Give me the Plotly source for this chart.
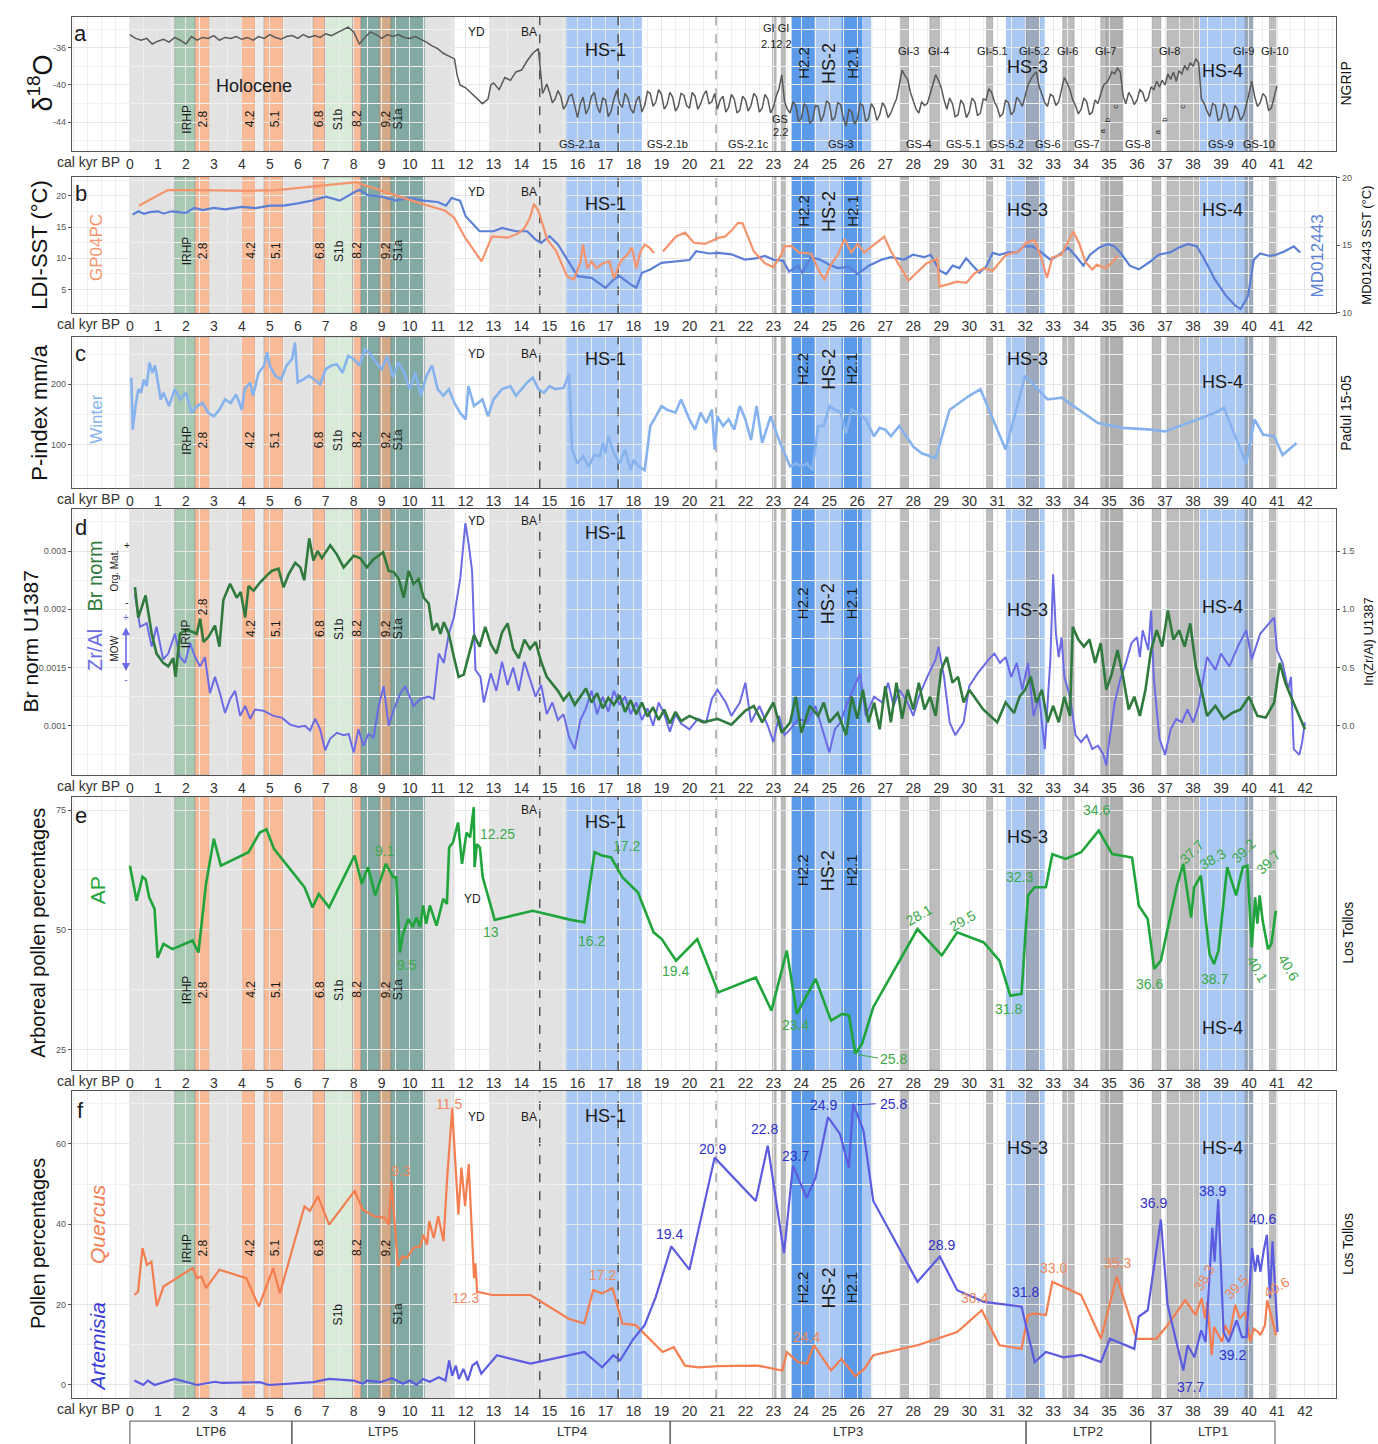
import plotly.graph_objects as go

# ================= DATA =================
# (a) NGRIP d18O  (age kyr, permil)
ngrip = [(0.0,-34.6),(0.2,-35.0),(0.4,-35.2),(0.6,-35.0),(0.8,-35.6),(1.0,-35.3),(1.2,-35.1),(1.4,-35.4),(1.6,-34.9),(1.8,-35.2),
 (2.0,-35.6),(2.2,-34.8),(2.4,-35.2),(2.6,-34.9),(2.8,-35.0),(3.0,-34.7),(3.2,-35.2),(3.4,-34.9),(3.6,-35.0),(3.8,-34.8),
 (4.0,-35.1),(4.2,-34.9),(4.4,-35.2),(4.6,-34.8),(4.8,-35.0),(5.0,-34.6),(5.2,-34.9),(5.4,-35.1),(5.6,-34.8),(5.8,-34.7),
 (6.0,-35.0),(6.2,-34.6),(6.4,-34.9),(6.6,-34.7),(6.8,-34.9),(7.0,-34.5),(7.2,-34.7),(7.4,-34.4),(7.6,-34.1),(7.8,-33.8),
 (8.0,-34.3),(8.2,-35.6),(8.4,-34.9),(8.6,-34.3),(8.8,-34.6),(9.0,-35.0),(9.2,-34.6),(9.4,-34.8),(9.6,-34.6),(9.8,-34.9),
 (10.0,-35.0),(10.2,-34.8),(10.4,-35.1),(10.6,-35.4),(10.8,-35.8),(11.0,-36.1),(11.2,-36.6),(11.4,-36.9),(11.6,-37.2),(11.7,-39.0),
 (11.8,-40.0),(12.0,-40.3),(12.2,-40.9),(12.4,-41.4),(12.6,-42.0),(12.8,-41.5),(12.9,-40.0),(13.0,-39.8),(13.2,-40.5),(13.4,-39.2),
 (13.6,-39.5),(13.8,-38.6),(14.0,-38.4),(14.2,-37.4),(14.4,-36.6),(14.6,-36.1),
 (14.7,-39.8),(14.75,-40.9),(14.8,-40.6),(14.9,-39.9),(15.0,-40.8),(15.1,-41.9),(15.2,-41.5),(15.3,-40.6),(15.4,-41.2),(15.5,-42.6),
 (15.6,-42.1),(15.7,-41.2),(15.8,-41.0),(15.9,-42.4),(16.0,-43.5),(16.1,-42.0),(16.2,-41.3),(16.3,-43.1),(16.4,-42.5),(16.5,-41.2),
 (16.6,-40.8),(16.7,-42.3),(16.8,-43.0),(16.9,-41.4),(17.0,-41.6),(17.1,-43.4),(17.2,-42.8),(17.3,-41.5),(17.4,-40.6),(17.5,-42.0),
 (17.6,-42.4),(17.7,-40.9),(17.8,-41.4),(17.9,-42.6),(18.0,-43.0),(18.1,-41.7),(18.2,-41.2),(18.3,-42.9),(18.4,-42.2),(18.5,-40.7),
 (18.6,-40.9),(18.7,-42.3),(18.8,-41.8),(18.9,-40.5),(19.0,-41.0),(19.1,-42.6),(19.2,-42.1),(19.3,-40.8),(19.4,-41.3),(19.5,-42.8),
 (19.6,-42.3),(19.7,-40.9),(19.8,-41.1),(19.9,-42.2),(20.0,-42.5),(20.1,-40.8),(20.2,-41.2),(20.3,-42.6),(20.4,-42.0),(20.5,-41.1),
 (20.6,-40.6),(20.7,-42.0),(20.8,-41.8),(20.9,-40.9),(21.0,-42.6),(21.1,-41.6),(21.2,-41.2),(21.3,-42.9),(21.4,-42.4),(21.5,-41.0),
 (21.6,-41.5),(21.7,-43.0),(21.8,-42.7),(21.9,-41.2),(22.0,-41.6),(22.1,-42.8),(22.2,-42.2),(22.3,-40.9),(22.4,-41.3),(22.5,-42.9),
 (22.6,-42.5),(22.7,-41.0),(22.8,-41.5),(22.9,-43.0),(23.0,-42.4),(23.1,-41.2),(23.2,-40.4),(23.3,-38.9),(23.35,-40.2),(23.4,-41.8),
 (23.5,-42.6),(23.6,-43.0),(23.7,-41.8),(23.8,-42.2),(23.9,-43.9),(24.0,-43.6),(24.1,-42.0),(24.2,-42.4),(24.3,-44.1),(24.4,-43.8),
 (24.5,-42.2),(24.6,-42.3),(24.7,-43.9),(24.8,-43.2),(24.9,-41.7),(25.0,-42.0),(25.1,-43.8),(25.2,-43.5),(25.3,-41.9),(25.4,-42.1),
 (25.5,-43.6),(25.6,-44.4),(25.7,-42.6),(25.8,-42.9),(25.9,-44.2),(26.0,-43.7),(26.1,-42.0),(26.2,-42.2),(26.3,-43.9),(26.4,-43.6),
 (26.5,-42.0),(26.6,-42.5),(26.7,-43.8),(26.8,-43.2),(26.9,-41.9),(27.0,-42.4),(27.1,-43.5),(27.2,-43.0),(27.3,-42.2),(27.4,-41.5),
 (27.5,-40.0),(27.6,-38.4),(27.7,-39.0),(27.8,-39.4),(27.9,-40.8),(28.0,-41.8),(28.1,-42.6),(28.2,-43.0),(28.3,-41.8),(28.4,-42.2),
 (28.5,-42.0),(28.6,-41.0),(28.7,-39.8),(28.8,-38.9),(28.9,-39.5),(29.0,-40.3),(29.1,-41.6),(29.2,-42.6),(29.3,-41.4),(29.4,-42.0),
 (29.5,-43.4),(29.6,-43.2),(29.7,-41.6),(29.8,-42.1),(29.9,-43.5),(30.0,-42.9),(30.1,-41.4),(30.2,-41.8),(30.3,-43.3),(30.4,-43.0),
 (30.5,-41.5),(30.6,-41.6),(30.7,-40.4),(30.8,-40.8),(30.9,-41.8),(31.0,-42.4),(31.1,-43.4),(31.2,-43.1),(31.3,-41.6),(31.4,-41.9),
 (31.5,-43.2),(31.6,-42.8),(31.7,-41.3),(31.8,-41.7),(31.9,-42.3),(32.0,-41.0),(32.1,-40.0),(32.2,-39.4),(32.3,-38.9),(32.4,-38.6),
 (32.5,-40.2),(32.6,-41.0),(32.7,-41.9),(32.8,-42.3),(32.9,-41.0),(33.0,-41.2),(33.1,-42.2),(33.2,-41.8),(33.3,-40.5),(33.4,-39.2),
 (33.5,-39.8),(33.6,-40.5),(33.7,-41.6),(33.8,-42.2),(33.9,-43.1),(34.0,-42.6),(34.1,-41.4),(34.2,-41.8),(34.3,-43.2),(34.4,-42.9),
 (34.5,-41.6),(34.6,-42.0),(34.7,-41.0),(34.8,-40.0),(34.9,-39.8),(35.0,-39.3),(35.1,-38.6),(35.2,-38.8),(35.3,-38.2),(35.4,-38.6),
 (35.5,-41.2),(35.6,-42.0),(35.7,-40.8),(35.8,-41.3),(35.9,-42.1),(36.0,-41.6),(36.1,-40.5),(36.2,-40.8),(36.3,-41.8),(36.4,-41.4),
 (36.5,-40.2),(36.6,-40.5),(36.7,-39.6),(36.8,-40.2),(36.9,-39.5),(37.0,-40.0),(37.1,-38.8),(37.2,-39.4),(37.3,-38.6),(37.4,-39.6),
 (37.5,-38.5),(37.6,-38.8),(37.7,-37.9),(37.8,-38.4),(37.9,-37.6),(38.0,-38.0),(38.1,-37.2),(38.2,-37.6),(38.3,-41.5),(38.4,-42.0),
 (38.5,-42.8),(38.6,-43.4),(38.7,-42.0),(38.8,-42.2),(38.9,-43.8),(39.0,-43.6),(39.1,-42.0),(39.2,-42.4),(39.3,-43.9),(39.4,-43.5),
 (39.5,-42.2),(39.6,-42.7),(39.7,-43.8),(39.8,-43.3),(39.9,-42.2),(40.0,-41.0),(40.1,-39.6),(40.2,-41.2),(40.3,-42.3),(40.4,-41.9),
 (40.5,-40.9),(40.6,-41.3),(40.7,-42.7),(40.8,-42.5),(40.9,-41.2),(41.0,-40.1)]

# (b) GP04PC LDI-SST (left axis, degC); None = gap
gp04pc = [(0.32,18.4),(1.35,20.9),(2.38,20.9),(4.29,20.8),(5.24,20.9),(6.5,21.5),(8.1,22.2),(8.25,21.9),(9.2,20.5),(10.3,18.9),
 (11.27,17.6),(11.59,16.5),(11.98,13.3),(12.57,9.5),(12.94,13.5),(13.49,13.3),(13.85,13.9),(14.1,14.8),(14.3,16.5),(14.44,18.7),
 (14.6,17.6),(14.92,13.0),(15.24,11.1),(15.63,7.1),(15.87,6.6),(16.11,9.5),(16.19,12.2),(16.35,8.4),(16.5,9.5),(16.67,8.4),
 (16.9,9.2),(17.14,9.5),(17.3,6.8),(17.54,9.5),(17.78,10.6),(17.94,11.7),(18.1,8.4),(18.25,11.1),(18.4,12.2),(18.57,11.7),
 (18.73,10.9),(18.9,None),(19.05,11.1),(19.52,13.5),(19.84,14.1),(20.16,12.48),(20.55,12.29),(21.03,13.26),(21.27,13.46),(21.5,14.43),
 (21.74,15.67),(21.9,15.6),(22.3,11.12),(22.7,9.18),(23.0,8.59),(23.28,10.54),(23.4,11.9),(23.64,12.0),(23.91,10.93),(24.35,10.73),
 (24.67,7.62),(24.83,6.65),(25.06,8.98),(25.3,10.54),(25.54,13.07),(25.78,10.93),(26.01,12.29),(26.25,10.93),(26.96,13.46),(27.2,11.12),
 (27.83,6.45),(28.47,9.18),(28.86,9.95),(28.94,5.48),(29.26,5.87),(29.57,6.26),(29.89,6.06),(30.2,7.62),(30.52,8.4),(30.84,8.01),
 (31.31,10.54),(31.79,11.12),(32.03,12.48),(32.34,12.87),(32.58,9.95),(32.78,6.84),(32.97,10.15),(33.29,10.54),(33.72,14.24),(33.92,12.48),
 (34.16,9.37),(34.4,8.2),(34.56,8.98),(34.87,8.4),(35.11,9.37),(35.3,10.34)]

# (b) MD012443 SST (right axis, degC)
md012443 = [(0.1,17.27),(0.3,17.51),(0.5,17.32),(0.7,17.45),(1.0,17.51),(1.2,17.35),(1.5,17.51),(2.0,17.39),(2.3,17.76),(2.6,17.6),
 (3.0,17.76),(3.4,17.65),(4.0,17.84),(4.5,17.75),(5.0,17.93),(5.5,17.93),(6.0,18.1),(6.5,18.3),(7.0,18.6),(7.5,18.3),
 (8.0,18.9),(8.2,19.1),(8.5,18.7),(9.0,18.6),(9.5,18.3),(10.0,18.5),(10.5,18.3),(11.0,18.2),(11.3,17.93),(11.5,18.5),
 (11.8,18.3),(12.0,17.14),(12.5,16.03),(13.0,16.03),(13.3,16.28),(13.8,16.03),(14.2,16.03),(14.5,15.41),(14.7,15.17),(15.0,15.66),
 (15.3,15.05),(15.6,14.06),(16.0,12.7),(16.5,12.58),(17.0,11.84),(17.3,12.46),(17.5,12.7),(17.9,12.09),(18.1,11.84),(18.3,12.95),
 (18.6,13.2),(19.0,13.69),(19.5,13.8),(20.0,13.9),(20.24,14.55),(20.71,14.38),(21.03,14.43),(21.5,14.32),(21.98,13.93),(22.37,14.02),
 (22.7,14.2),(23.0,13.93),(23.35,13.84),(23.56,13.04),(23.88,13.48),(24.03,12.95),(24.35,14.11),(24.67,13.93),(24.98,13.57),(25.3,13.3),
 (25.7,13.39),(26.01,12.86),(26.41,13.48),(26.88,13.93),(27.2,14.11),(27.67,13.93),(27.99,14.29),(28.39,14.11),(28.62,14.29),(28.94,13.13),
 (29.18,12.86),(29.41,13.48),(29.65,13.3),(29.89,14.02),(30.13,13.48),(30.36,12.95),(30.6,13.39),(30.84,14.43),(31.08,14.29),(31.39,14.46),
 (31.71,14.46),(31.95,14.91),(32.26,14.91),(32.58,14.46),(32.9,13.93),(33.21,14.29),(33.53,14.82),(33.77,14.29),(34.08,13.48),(34.32,14.29),
 (34.64,14.82),(34.95,15.09),(35.19,14.91),(35.43,14.38),(35.74,13.48),(36.06,13.21),(36.45,13.75),(36.77,14.29),(37.18,14.46),(37.5,14.82),
 (37.82,15.09),(38.14,14.91),(38.46,13.75),(38.77,12.5),(39.18,11.25),(39.5,10.54),(39.7,10.27),(39.97,11.25),(40.17,13.93),(40.4,14.38),
 (40.73,14.2),(40.97,14.29),(41.28,14.55),(41.6,14.91),(41.83,14.46)]

# (c) Padul 15-05 winter P-index (mm/a)
winter_p = [(0.05,211),(0.1,125),(0.2,164),(0.3,192),(0.4,186),(0.5,208),(0.6,197),(0.7,236),(0.8,219),(0.9,231),(1.0,203),(1.1,175),
 (1.2,186),(1.4,164),(1.6,192),(1.8,175),(2.0,186),(2.2,153),(2.4,164),(2.6,169),(2.8,153),(3.0,147),(3.2,158),(3.4,175),(3.6,169),
 (3.8,183),(4.0,158),(4.1,192),(4.3,203),(4.4,181),(4.6,219),(4.8,231),(4.9,253),(5.0,231),(5.2,214),(5.4,208),(5.6,231),(5.8,242),
 (5.9,269),(6.0,203),(6.2,208),(6.4,214),(6.6,208),(6.8,200),(7.0,225),(7.2,231),(7.4,233),(7.6,219),(7.8,247),(8.0,242),(8.2,231),
 (8.4,258),(8.6,250),(8.8,236),(9.0,225),(9.2,247),(9.4,211),(9.6,236),(9.8,219),(10.0,192),(10.2,219),(10.4,181),(10.6,214),(10.8,231),
 (11.0,192),(11.2,181),(11.4,192),(11.6,169),(11.8,153),(12.0,142),(12.1,197),(12.3,164),(12.6,175),(12.8,147),(13.0,175),(13.3,192),
 (13.6,197),(13.8,181),(14.0,192),(14.2,203),(14.4,211),(14.6,192),(14.8,186),(15.0,197),(15.2,192),(15.5,194),(15.7,217),(15.8,92),
 (16.0,69),(16.2,81),(16.4,64),(16.6,83),(16.8,81),(16.9,103),(17.0,86),(17.1,114),(17.3,86),(17.5,69),(17.7,92),(17.9,58),(18.0,75),
 (18.2,64),(18.4,58),(18.6,131),(18.8,147),(19.0,164),(19.2,158),(19.5,153),(19.7,175),(20.0,142),(20.2,125),(20.4,153),(20.6,136),
 (20.8,158),(20.9,92),(21.0,147),(21.2,131),(21.4,142),(21.6,125),(21.8,164),(22.0,142),(22.2,108),(22.4,164),(22.6,103),(22.9,147),
 (23.2,108),(23.6,64),(23.8,69),(24.0,64),(24.2,69),(24.4,58),(24.6,131),(24.8,131),(25.0,164),(25.2,158),(25.4,153),(25.6,119),
 (25.8,158),(26.0,153),(26.3,142),(26.6,114),(26.8,128),(27.0,125),(27.2,114),(27.5,131),(28.0,97),(28.3,86),(28.8,78),(29.3,158),
 (30.0,181),(30.4,192),(31.3,92),(32.0,214),(32.8,175),(33.3,178),(34.6,136),(35.5,128),(36.5,125),(37.0,122),(38.0,139),(38.8,153),
 (39.1,161),(39.9,69),(40.2,142),(40.5,117),(40.9,114),(41.2,83),(41.7,103)]

# (d) U1387 Br norm (left axis)
br_norm = [(0.18,0.00219),(0.3,0.00193),(0.56,0.00212),(0.78,0.00179),(0.95,0.00162),(1.19,0.00154),(1.37,0.00151),(1.55,0.00158),
 (1.63,0.00142),(1.79,0.00179),(1.97,0.00182),(2.21,0.00181),(2.39,0.00179),(2.51,0.00192),(2.63,0.00172),(2.8,0.00176),(3.04,0.00186),
 (3.2,0.00168),(3.34,0.00208),(3.58,0.00222),(3.82,0.0021),(3.96,0.00215),(4.12,0.00193),(4.24,0.0022),(4.42,0.00216),(4.65,0.00223),
 (4.89,0.00229),(5.07,0.00233),(5.31,0.00235),(5.49,0.00219),(5.67,0.0023),(5.91,0.0024),(6.09,0.00236),(6.23,0.00225),(6.41,0.00261),
 (6.56,0.00242),(6.71,0.0025),(6.86,0.00244),(7.16,0.00255),(7.4,0.00247),(7.64,0.00236),(8.0,0.00246),(8.23,0.00244),(8.47,0.00236),
 (8.71,0.00243),(9.05,0.00249),(9.25,0.00233),(9.43,0.00232),(9.61,0.00226),(9.79,0.0021),(9.96,0.00233),(10.14,0.00222),(10.32,0.00226),
 (10.5,0.0021),(10.68,0.00205),(10.82,0.00182),(10.98,0.00188),(11.1,0.00179),(11.22,0.00189),(11.4,0.00179),(11.58,0.00159),(11.75,0.00142),
 (11.93,0.00144),(12.11,0.0016),(12.3,0.00178),(12.5,0.00168),(12.7,0.00185),(12.9,0.0017),(13.1,0.00162),(13.3,0.0018),(13.5,0.00188),
 (13.7,0.00166),(13.9,0.00158),(14.1,0.00174),(14.3,0.00166),(14.5,0.00172),(14.7,0.00155),(14.9,0.00142),(15.1,0.00136),(15.3,0.0013),
 (15.5,0.00122),(15.7,0.00128),(15.9,0.00118),(16.1,0.00125),(16.3,0.00132),(16.5,0.0012),(16.7,0.00128),(16.9,0.00115),(17.1,0.00124),
 (17.3,0.00118),(17.5,0.00126),(17.7,0.00112),(17.9,0.00122),(18.1,0.0011),(18.3,0.0012),(18.5,0.00108),(18.7,0.00116),(18.9,0.00105),
 (19.1,0.00114),(19.3,0.00102),(19.5,0.00112),(19.7,0.00104),(20.0,0.001085),(20.5,0.00103),(21.0,0.00106),(21.5,0.00101),(22.0,0.00113),
 (22.3,0.00117),(22.6,0.00103),(23.0,0.0012),(23.3,0.00094),(23.6,0.00103),(23.8,0.00125),(24.0,0.00094),(24.3,0.00117),(24.6,0.001085),
 (24.8,0.0012),(25.0,0.00103),(25.3,0.00111),(25.6,0.00092),(25.8,0.00125),(26.0,0.00106),(26.2,0.00131),(26.4,0.00103),(26.6,0.0012),
 (26.8,0.00097),(27.0,0.00134),(27.2,0.00103),(27.4,0.00137),(27.6,0.00106),(27.8,0.00131),(28.0,0.00114),(28.2,0.00137),(28.4,0.00114),
 (28.6,0.00125),(28.8,0.001085),(29.0,0.00148),(29.2,0.00159),(29.4,0.00137),(29.6,0.00142),(29.8,0.0012),(30.0,0.00131),(30.5,0.00114),
 (31.0,0.00103),(31.3,0.0012),(31.6,0.00111),(31.8,0.00125),(32.0,0.00131),(32.2,0.00142),(32.4,0.0012),(32.6,0.00131),(32.8,0.00103),
 (33.0,0.00117),(33.2,0.00103),(33.4,0.00125),(33.6,0.001085),(33.7,0.00185),(33.9,0.00174),(34.1,0.00168),(34.3,0.00174),(34.5,0.00154),
 (34.7,0.00171),(34.9,0.00131),(35.1,0.00145),(35.3,0.00165),(35.5,0.00142),(35.7,0.00114),(35.9,0.00125),(36.1,0.001085),(36.3,0.00131),
 (36.5,0.00165),(36.7,0.00182),(36.9,0.00168),(37.1,0.00199),(37.3,0.00174),(37.5,0.00182),(37.7,0.00168),(37.9,0.00188),(38.1,0.00151),
 (38.3,0.00131),(38.5,0.001085),(38.8,0.00117),(39.1,0.00106),(39.4,0.00111),(39.7,0.00114),(40.0,0.00125),(40.3,0.001085),(40.6,0.00107),
 (40.9,0.0012),(41.1,0.00154),(41.3,0.00137),(41.5,0.00125),(41.7,0.00114),(41.9,0.00103),(42.0,0.00097)]

# (d) U1387 ln(Zr/Al) (right axis)
zr_al = [(0.18,1.13),(0.36,0.85),(0.6,0.88),(0.78,0.68),(0.95,0.85),(1.19,0.57),(1.37,0.62),(1.61,0.79),(1.79,0.59),(1.97,0.54),
 (2.15,0.71),(2.33,0.59),(2.51,0.51),(2.68,0.59),(2.86,0.28),(3.04,0.42),(3.22,0.28),(3.4,0.11),(3.58,0.23),(3.76,0.3),(3.94,0.085),
 (4.12,0.17),(4.3,0.06),(4.47,0.14),(4.77,0.13),(5.13,0.085),(5.43,0.07),(5.73,0.01),(6.03,-0.01),(6.26,0.0),(6.44,-0.04),(6.62,0.06),
 (6.8,-0.03),(6.98,-0.21),(7.16,-0.11),(7.4,-0.06),(7.64,-0.08),(7.82,-0.07),(8.0,-0.23),(8.17,-0.03),(8.35,-0.17),(8.53,-0.07),
 (8.71,-0.1),(8.89,0.17),(9.07,0.34),(9.25,0.0),(9.43,0.14),(9.67,0.28),(9.84,0.34),(10.14,0.17),(10.38,0.23),(10.68,0.25),(10.86,0.23),
 (11.04,0.62),(11.22,0.54),(11.4,0.79),(11.58,0.93),(11.81,1.27),(11.99,1.74),(12.11,1.56),(12.23,1.33),(12.35,0.48),(12.53,0.42),
 (12.65,0.2),(12.9,0.45),(13.1,0.3),(13.3,0.55),(13.5,0.35),(13.7,0.5),(13.9,0.3),(14.1,0.55),(14.3,0.4),(14.5,0.25),(14.7,0.35),
 (14.9,0.1),(15.1,0.2),(15.3,0.05),(15.5,0.1),(15.7,-0.1),(15.9,-0.2),(16.1,0.05),(16.3,0.15),(16.5,0.3),(16.7,0.1),(16.9,0.25),
 (17.1,0.12),(17.3,0.3),(17.5,0.18),(17.7,0.25),(17.9,0.1),(18.1,0.2),(18.3,0.05),(18.5,0.15),(18.7,0.0),(18.9,0.2),(19.1,0.1),
 (19.3,-0.05),(19.5,0.1),(19.7,0.02),(20.0,-0.03),(20.3,0.06),(20.6,0.03),(20.8,0.23),(21.0,0.31),(21.3,0.2),(21.5,0.085),(21.8,0.2),
 (22.0,0.37),(22.2,0.03),(22.5,0.17),(22.8,0.0),(23.0,-0.14),(23.2,0.085),(23.4,-0.08),(23.6,-0.03),(23.9,0.06),(24.2,0.03),(24.5,0.17),
 (24.8,-0.08),(25.0,-0.23),(25.2,-0.03),(25.4,0.03),(25.6,0.17),(25.9,0.34),(26.1,0.45),(26.3,0.085),(26.6,0.25),(26.9,0.2),(27.1,0.37),
 (27.3,0.17),(27.5,0.31),(27.8,0.2),(28.0,0.085),(28.2,0.25),(28.5,0.42),(28.8,0.57),(28.9,0.68),(29.1,0.42),(29.3,0.03),(29.5,-0.08),
 (29.8,0.03),(30.0,0.34),(30.3,0.45),(30.7,0.57),(30.9,0.62),(31.1,0.54),(31.3,0.59),(31.5,0.42),(31.7,0.54),(31.9,0.31),(32.1,0.54),
 (32.3,0.085),(32.5,0.25),(32.7,-0.2),(32.8,0.2),(32.9,0.57),(33.0,1.3),(33.1,0.79),(33.2,0.59),(33.3,0.76),(33.4,0.42),(33.6,0.25),
 (33.8,-0.08),(34.0,-0.14),(34.2,-0.08),(34.4,-0.2),(34.6,-0.17),(34.8,-0.25),(34.9,-0.34),(35.0,-0.14),(35.2,0.2),(35.4,0.4),(35.6,0.54),
 (35.8,0.71),(36.0,0.76),(36.1,0.59),(36.2,0.82),(36.4,0.65),(36.5,0.99),(36.6,0.4),(36.8,-0.11),(37.0,-0.25),(37.2,-0.03),(37.4,0.06),
 (37.6,0.03),(37.8,0.14),(38.0,0.03),(38.2,0.17),(38.5,0.59),(38.8,0.48),(39.0,0.62),(39.3,0.51),(39.6,0.68),(39.9,0.82),(40.1,0.57),
 (40.4,0.79),(40.9,0.93),(41.0,0.65),(41.2,0.54),(41.4,0.31),(41.5,0.42),(41.6,-0.2),(41.8,-0.25),(41.9,-0.14),(42.0,0.03)]

# (e) Los Tollos arboreal pollen (%)
ap_pct = [(0.0,63.4),(0.24,56.1),(0.45,61.1),(0.56,60.6),(0.69,56.8),(0.88,54.4),(0.99,44.2),(1.2,47.1),(1.52,46.0),(2.24,47.8),
 (2.45,45.3),(2.72,59.6),(3.0,69.0),(3.25,63.4),(4.24,66.2),(4.64,70.3),(4.88,71.0),(5.15,66.9),(6.24,58.9),(6.53,54.7),(6.75,57.5),
 (7.12,54.7),(8.03,65.5),(8.29,59.6),(8.51,63.1),(8.77,57.2),(9.15,63.8),(9.41,61.0),(9.52,61.0),(9.65,45.3),(9.76,49.2),(9.95,52.3),
 (10.11,50.6),(10.24,52.6),(10.37,50.6),(10.48,55.1),(10.59,51.3),(10.72,55.1),(10.96,50.9),(11.2,56.5),(11.33,55.4),(11.41,67.2),
 (11.55,68.3),(11.73,72.4),(11.87,63.8),(12.03,70.3),(12.16,69.3),(12.29,75.6),(12.32,63.1),(12.4,67.9),(12.51,67.2),(12.61,61.0),
 (13.04,52.1),(14.4,54.0),(15.76,52.1),(16.24,51.6),(16.61,66.2),(16.88,65.5),(17.2,65.1),(17.6,61.0),(18.16,57.8),(18.72,49.5),
 (19.01,48.1),(19.52,43.6),(20.28,48.1),(21.03,37.0),(22.37,40.1),(22.93,33.2),(23.48,45.7),(23.84,32.5),(24.51,39.8),(25.06,31.1),
 (25.46,32.5),(25.7,32.2),(25.93,24.2),(26.17,26.3),(26.57,33.9),(28.15,50.2),(29.02,44.7),(29.57,49.5),(30.52,47.4),(31.08,43.6),
 (31.47,36.3),(31.87,36.7),(32.1,57.2),(32.34,58.9),(32.74,58.9),(32.97,65.8),(33.45,64.8),(34.0,66.2),(34.63,70.7),(35.11,65.8),
 (35.82,65.1),(36.06,55.1),(36.38,52.3),(36.61,41.9),(36.85,43.6),(37.41,58.9),(37.65,63.8),(37.93,52.6),(38.04,58.9),(38.28,61.3),
 (38.59,45.0),(38.75,42.9),(38.91,45.7),(39.22,63.1),(39.54,57.2),(39.78,63.1),(39.94,63.4),(40.1,46.4),(40.22,56.8),(40.3,51.3),
 (40.38,57.2),(40.49,51.9),(40.68,46.0),(40.8,47.1),(40.96,54.0)]

# (f) Los Tollos Quercus and Artemisia (%)
quercus_pct = [(0.16,22.4),(0.29,23.2),(0.45,34.1),(0.61,29.9),(0.77,30.7),(0.96,19.6),(1.2,24.5),(2.24,29.1),(2.4,26.6),(2.56,27.0),
 (2.72,24.1),(3.2,28.7),(4.16,26.6),(4.61,19.5),(5.12,29.1),(5.36,22.8),(6.24,44.5),(6.43,43.3),(6.72,47.0),(7.12,39.9),(8.03,48.3),
 (8.32,43.7),(8.72,42.0),(9.12,41.6),(9.25,39.9),(9.35,50.8),(9.58,29.5),(9.74,32.0),(9.9,31.6),(10.14,34.1),(10.38,34.5),(10.49,37.4),
 (10.62,34.9),(10.7,40.8),(10.86,36.6),(11.02,42.0),(11.21,35.8),(11.34,51.6),(11.52,68.8),(11.74,42.4),(11.85,54.1),(11.98,44.5),
 (12.11,55.0),(12.19,44.1),(12.3,26.6),(12.35,30.3),(12.41,23.2),(12.96,22.4),(14.32,22.4),(15.68,16.5),(16.24,15.3),(16.56,23.6),
 (16.88,22.8),(17.25,24.1),(17.6,15.3),(18.08,14.9),(19.04,8.2),(19.44,9.4),(19.84,4.8),(20.32,4.4),(21.03,4.7),(22.45,4.8),(23.32,3.6),
 (23.48,8.2),(23.88,5.7),(24.19,5.3),(24.45,9.9),(25.06,3.6),(25.43,6.5),(25.93,2.2),(26.25,4.0),(26.57,7.4),(28.15,9.9),(29.57,13.2),
 (30.45,18.6),(31.08,9.9),(31.87,9.0),(32.1,17.4),(32.34,17.8),(32.74,17.4),(32.97,25.7),(34.0,22.4),(34.71,11.5),(35.27,27.0),
 (35.98,11.5),(36.69,11.5),(37.09,14.9),(37.72,21.1),(38.09,17.4),(38.31,21.6),(38.43,16.5),(38.51,20.7),(38.67,7.4),(38.75,14.5),
 (38.91,12.4),(39.04,10.7),(39.15,14.9),(39.3,12.4),(39.51,19.9),(39.67,16.5),(39.86,18.2),(40.04,10.7),(40.17,14.0),(40.33,13.2),
 (40.41,12.4),(40.57,14.9),(40.65,21.1),(40.81,16.5),(40.97,12.4)]

artemisia_pct = [(0.16,1.1),(0.48,0.0),(0.64,1.1),(0.88,0.0),(1.6,1.5),(2.4,0.0),(3.04,0.8),(3.3,0.5),(4.64,0.7),(4.96,0.0),
 (6.56,0.7),(7.12,1.5),(8.0,1.1),(8.32,0.3),(8.48,1.1),(8.96,0.7),(9.36,1.7),(9.52,1.1),(9.76,0.3),(10.0,1.1),(10.24,0.0),
 (10.48,1.5),(10.72,0.8),(11.04,1.9),(11.28,1.1),(11.41,6.1),(11.52,2.3),(11.65,4.8),(11.76,1.5),(11.92,4.0),(12.08,1.1),(12.24,4.8),
 (12.4,5.7),(12.56,2.8),(13.12,7.4),(14.32,5.3),(16.24,8.2),(16.88,4.4),(17.28,7.4),(17.52,6.1),(18.0,11.5),(18.4,14.9),(18.8,22.0),
 (19.35,34.5),(20.0,28.7),(20.9,56.6),(22.37,45.8),(22.8,59.6),(23.38,32.8),(23.7,54.6),(24.19,46.6),(24.51,51.6),(24.95,66.7),
 (25.38,62.5),(25.7,54.1),(25.85,70.0),(26.22,63.3),(26.57,45.8),(28.15,25.7),(28.95,32.0),(29.57,23.6),(30.52,20.7),(31.87,19.5),
 (32.34,5.7),(32.74,8.2),(33.37,6.9),(34.0,7.5),(34.71,5.7),(35.03,11.5),(35.9,9.0),(36.06,17.0),(36.38,18.6),(36.85,41.2),
 (37.09,19.9),(37.65,3.6),(37.81,9.9),(38.05,6.9),(38.29,13.6),(38.45,10.7),(38.69,39.1),(38.77,30.7),(38.9,46.2),(39.09,13.2),
 (39.27,10.7),(39.56,16.1),(39.75,11.9),(39.91,11.9),(40.11,34.1),(40.22,28.2),(40.31,32.4),(40.41,28.2),(40.52,33.2),(40.64,37.4),
 (40.75,21.6),(40.84,35.8),(41.02,13.2)]

# Peak-age labels (text, age, value, angle)
ap_labels = [("12.25",13.15,70.0,0),("9.1",9.1,66.5,0),("9.5",9.9,42.6,0),("13",12.9,49.5,0),("16.2",16.5,47.8,0),("17.2",17.75,67.6,0),
 ("19.4",19.5,41.5,0),("23.4",23.8,30.1,0),("25.8",27.3,23.1,0),("28.1",28.2,53.2,-30),("29.5",29.75,51.9,-30),("31.8",31.4,33.5,0),
 ("32.3",31.8,61.0,0),("34.6",34.55,74.9,0),("36.6",36.45,38.8,0),("37.7",37.95,66.3,-45),("38.3",38.7,64.8,-30),("39.2",39.8,66.5,-45),
 ("39.7",40.7,64.1,-45),("38.7",38.75,39.8,0),("40.1",40.3,41.9,60),("40.6",41.4,42.2,60)]
quercus_labels = [("11.5",11.4,70.0,0),("9.3",9.68,53.3,0),("12.3",12.0,21.6,0),("17.2",16.9,27.4,0),("24.4",24.2,11.9,0),
 ("30.4",30.2,21.6,0),("33.0",33.0,29.1,0),("35.3",35.3,30.3,0),("38.3",38.4,26.6,-60),("39.5",39.55,24.3,-45),("40.6",41.0,24.3,-30)]
artemisia_labels = [("19.4",19.3,37.5,0),("20.9",20.84,58.7,0),("22.8",22.7,63.7,0),("23.7",23.8,57.1,0),("24.9",24.8,69.6,0),
 ("25.8",27.3,70.0,0),("28.9",29.0,34.8,0),("31.8",32.0,23.2,0),("36.9",36.6,45.4,0),("37.7",37.9,-0.6,0),("38.9",38.7,48.3,0),
 ("39.2",39.4,7.4,0),("40.6",40.5,41.2,0)]

# Pollen zones
ltp_edges = [0, 5.79, 12.32, 19.31, 32.03, 36.49, 40.93]
ltp_names = ["LTP6", "LTP5", "LTP4", "LTP3", "LTP2", "LTP1"]

# Event shading (start, end, kind)
events = [(0,1.6,"hol"),(1.6,2.33,"irhp"),(2.33,2.84,"rcc"),(2.84,3.99,"hol"),(3.99,4.48,"rcc"),(4.48,4.79,"hol2"),(4.79,5.47,"rcc"),
 (5.47,6.55,"hol"),(6.55,6.97,"rcc"),(6.97,7.96,"s1b"),(7.96,8.26,"rcc"),(8.26,8.92,"s1a"),(8.92,9.33,"rccs"),(9.33,10.54,"s1a"),
 (10.54,11.6,"hol"),(12.84,15.6,"hol"),(15.6,18.3,"hs"),(22.97,23.1,"gi"),(23.28,23.43,"gi"),(23.65,24.48,"h"),(24.48,25.43,"hs"),
 (25.43,26.17,"h"),(26.17,26.53,"hs"),(27.55,27.83,"gi"),(28.59,28.94,"gi"),(30.62,30.84,"gi"),(31.31,32.7,"hs"),(32.03,32.52,"gihs"),
 (33.34,33.75,"gi"),(34.7,35.47,"gi"),(34.9,35.47,"gi2"),(36.53,36.85,"gi"),(37.07,38.2,"gi"),(38.24,39.86,"hs"),(39.86,40.14,"gihs"),
 (40.73,41.0,"gi")]
dashed_ages = [(14.65,"#333333"),(17.45,"#333333"),(20.95,"#8c8c8c")]

event_text = [("IRHP",2.03),("2.8",2.6),("4.2",4.3),("5.1",5.2),("6.8",6.77),("S1b",7.45),("8.2",8.12),("9.2",9.14),("S1a",9.57)]
gi_text = [("GI-3",27.83),("GI-4",28.91),("GI-5.1",30.84),("GI-5.2",32.34),("GI-6",33.53),("GI-7",34.87),("GI-8",37.17),("GI-9",39.8),("GI-10",40.93)]
gs_text = [("GS-2.1a",16.1),("GS-2.1b",19.2),("GS-2.1c",22.1),("GS-3",25.4),("GS-4",28.2),("GS-5.1",29.8),("GS-5.2",31.35),
 ("GS-6",32.8),("GS-7",34.2),("GS-8",36.05),("GS-9",39.0),("GS-10",40.35)]

# ================= STYLE / LAYOUT =================
W, H = 1378, 1444
FONT = "Liberation Sans, Arial, sans-serif"
FILL = {"hol":"#e2e2e2","hol2":"#ebebeb","irhp":"#a8c9b2","rcc":"#f8ba97","s1b":"#d7ebd8","s1a":"#80aaa3","rccs":"#d3a988",
        "hs":"#a9c8f4","h":"#5a9ae8","gi":"#bdbdbd","gi2":"#b0b0b0","gihs":"#9daabd"}
BORDER = {"irhp","rcc","s1b","s1a","rccs","gi","gi2","gihs"}
frame_px = [(13,148),(174,311),(335,487),(508,775),(797,1072),(1093,1402)]
PX0, PX1 = 72, 1336
XR = [-2.07, 43.11]

def xa(i): return "x" if i == 1 else f"x{i}"
def ya(i): return "y" if i == 1 else f"y{i}"
def dom(t, b): return [1 - b / H, 1 - t / H]
def unz(pairs):
    return [p[0] for p in pairs], [p[1] for p in pairs]

fig = go.Figure()

def line(pairs, i, color, width, yax=None):
    x, y = unz(pairs)
    fig.add_trace(go.Scatter(x=x, y=y, mode="lines", xaxis=xa(i), yaxis=yax or ya(i),
                             line=dict(color=color, width=width), showlegend=False,
                             hoverinfo="skip", connectgaps=False))

line(ngrip, 1, "#595959", 1.5)
line(md012443, 2, "#5b7fd6", 2.2, "y2")       # base axis y2 (right side scale)
line(gp04pc, 2, "#f5946c", 2.2, "y7")         # overlay y7 (left scale)
line(winter_p, 3, "#86b3ee", 2.6)
line(zr_al, 4, "#6b6be6", 2.0, "y4")          # base y4 (right, ln Zr/Al)
line(br_norm, 4, "#2f7a3c", 2.6, "y8")        # overlay y8 (left, Br norm)
line(ap_pct, 5, "#1fa53b", 2.6)
line(quercus_pct, 6, "#f47e50", 2.2)
line(artemisia_pct, 6, "#5c5ce0", 2.2)

xticks = list(range(0, 43))
xtext = [str(v) for v in xticks]
axcommon = dict(showline=True, mirror=True, linecolor="#555555", linewidth=1.3, zeroline=False)

layout = dict(width=W, height=H, margin=dict(l=0, r=0, t=0, b=0), paper_bgcolor="white",
              plot_bgcolor="white", font=dict(family=FONT, color="#222222"), showlegend=False)

yspec = {
    1: dict(range=[-47.1, -32.7], tickvals=[-44, -40, -36], ticktext=["-44", "-40", "-36"], minor=[-46, -42, -38, -34]),
    2: dict(range=[9.95, 20.05], tickvals=[10, 15, 20], ticktext=["10", "15", "20"], minor=[]),
    3: dict(range=[28, 278], tickvals=[100, 200], ticktext=["100", "200"], minor=[50, 150, 250]),
    4: dict(range=[-0.42, 1.86], tickvals=[0, 0.5, 1.0, 1.5], ticktext=["0.0", "0.5", "1.0", "1.5"], minor=[]),
    5: dict(range=[20.8, 77.8], tickvals=[25, 50, 75], ticktext=["25", "50", "75"], minor=[37.5, 62.5]),
    6: dict(range=[-3.3, 73.2], tickvals=[0, 20, 40, 60], ticktext=["0", "20", "40", "60"], minor=[10, 30, 50, 70]),
}
grid_x_major = [v for v in range(-2, 44)]
for i in range(1, 7):
    t, b = frame_px[i - 1]
    key = "xaxis" if i == 1 else f"xaxis{i}"
    layout[key] = dict(axcommon, domain=[PX0 / W, PX1 / W], range=XR, anchor=ya(i), tickmode="array",
                       tickvals=xticks, ticktext=xtext, ticks="",
                       tickfont=dict(size=14, color="#333333", family=FONT), showgrid=True, gridcolor="#e6e6e6",
                       gridwidth=1, minor=dict(tickvals=[v + 0.5 for v in range(-3, 44)] + [-2, -1, 43], showgrid=True,
                                               gridcolor="#eeeeee", gridwidth=1))
    s = yspec[i]
    ykey = "yaxis" if i == 1 else f"yaxis{i}"
    side = "right" if i in (2, 4) else "left"
    grid_on = i not in (2, 4)
    layout[ykey] = dict(axcommon, domain=dom(t, b), range=s["range"], anchor=xa(i), side=side,
                        tickmode="array", tickvals=s["tickvals"], ticktext=s["ticktext"], ticks="outside",
                        ticklen=3, tickcolor="#555555", tickfont=dict(size=9, color="#555555", family=FONT),
                        showgrid=grid_on, gridcolor="#e6e6e6",
                        minor=dict(tickvals=s["minor"], showgrid=grid_on, gridcolor="#f0f0f0"))

# overlay axes: GP04PC (left) on panel b, Br norm (left) on panel d
layout["yaxis7"] = dict(range=[1.2, 23.0], overlaying="y2", side="left", anchor="x2", tickmode="array",
                        tickvals=[5, 10, 15, 20], ticks="outside", ticklen=3, tickcolor="#555555",
                        tickfont=dict(size=9, color="#555555", family=FONT), showgrid=True, gridcolor="#e6e6e6",
                        zeroline=False, showline=False,
                        minor=dict(tickvals=[2.5, 7.5, 12.5, 17.5, 22.5], showgrid=True, gridcolor="#f0f0f0"))
layout["yaxis8"] = dict(range=[0.00058, 0.00286], overlaying="y4", side="left", anchor="x4", tickmode="array",
                        tickvals=[0.001, 0.0015, 0.002, 0.0025], ticktext=["0.001", "0.0015", "0.002", "0.003"],
                        ticks="outside", ticklen=3, tickcolor="#555555",
                        tickfont=dict(size=9, color="#555555", family=FONT), showgrid=True, gridcolor="#e6e6e6",
                        zeroline=False, showline=False,
                        minor=dict(tickvals=[0.00075, 0.00125, 0.00175, 0.00225, 0.00275], showgrid=True,
                                   gridcolor="#f0f0f0"))
fig.update_layout(**layout)

shapes = []
for i in range(1, 7):
    yr = f"{ya(i)} domain"
    for (a, b2, k) in events:
        ln = dict(width=0.6, color="rgba(90,90,90,0.45)") if k in BORDER else dict(width=0)
        shapes.append(dict(type="rect", xref=xa(i), yref=yr, x0=a, x1=b2, y0=0, y1=1, fillcolor=FILL[k],
                           line=ln, layer="below"))
    for (a, c) in dashed_ages:
        shapes.append(dict(type="line", xref=xa(i), yref=yr, x0=a, x1=a, y0=0, y1=1,
                           line=dict(color=c, width=1.2, dash="dash"), layer="below"))
# leader lines for 25.8 labels
shapes.append(dict(type="line", xref="x5", yref="y5", x0=26.05, x1=26.75, y0=24.0, y1=23.3,
                   line=dict(color="#3aaa4a", width=1)))
shapes.append(dict(type="line", xref="x6", yref="y6", x0=26.0, x1=26.65, y0=69.8, y1=70.0,
                   line=dict(color="#3232c8", width=1)))
# LTP bar
for k in range(len(ltp_names)):
    shapes.append(dict(type="rect", xref="x6", yref="paper", x0=ltp_edges[k], x1=ltp_edges[k + 1],
                       y0=-0.02, y1=1 - 1425 / H, line=dict(color="#555555", width=1)))
fig.update_layout(shapes=shapes)

anns = []
def A(i, x, y, text, size=12, color="#1a1a1a", angle=0, dom_y=True, xanchor="center", yanchor="middle", yref=None, **kw):
    anns.append(dict(xref=xa(i), yref=yref or (f"{ya(i)} domain" if dom_y else ya(i)), x=x, y=y, text=text,
                     showarrow=False, textangle=angle, xanchor=xanchor, yanchor=yanchor,
                     font=dict(size=size, color=color, family=FONT), **kw))

letters = "abcdef"
ev_y = {1: 0.24, 2: 0.46, 3: 0.32, 4: 0.55, 5: 0.294, 6: 0.489}
hlab_y = {1: 0.656, 2: 0.75, 3: 0.79, 4: 0.645, 5: 0.73, 6: 0.36}
hs3_y = {1: 0.63, 2: 0.76, 3: 0.856, 4: 0.62, 5: 0.853, 6: 0.814}
hs4_y = {1: 0.60, 2: 0.76, 3: 0.70, 4: 0.633, 5: 0.153, 6: 0.814}
hs1_y = {1: 0.75, 2: 0.80, 3: 0.856, 4: 0.91, 5: 0.908, 6: 0.92}
ydba_y = {1: 0.89, 2: 0.89, 3: 0.89, 4: 0.956, 5: 0.95, 6: 0.915}
for i in range(1, 7):
    A(i, -1.75, 0.985, letters[i - 1], size=22, yanchor="top", xanchor="center")
    A(i, -0.3, 0, "cal kyr BP", size=14, color="#333333", xanchor="right", yanchor="top", yshift=-1)
    for (txt, x) in event_text:
        yy = ev_y[i]
        if i == 4 and txt == "IRHP":
            yy = 0.532
        if i == 4 and txt == "2.8":
            yy = 0.633
        if i == 6 and txt in ("S1b", "S1a"):
            yy = 0.274
        A(i, x, yy, txt, size=12, angle=-90)
    A(i, 24.05, hlab_y[i], "H2.2", size=15, angle=-90)
    A(i, 24.98, hlab_y[i], "HS-2", size=18, angle=-90)
    A(i, 25.8, hlab_y[i], "H2.1", size=15, angle=-90)
    A(i, 32.1, hs3_y[i], "HS-3", size=18)
    A(i, 39.05, hs4_y[i], "HS-4", size=18)
    A(i, 17.0, hs1_y[i], "HS-1", size=18)
    if i != 5:
        A(i, 12.4, ydba_y[i], "YD", size=12)
    A(i, 14.25, ydba_y[i], "BA", size=12)
A(5, 12.25, 56.5, "YD", size=12, dom_y=False)

# panel a extra labels
A(1, 4.45, -40.1, "Holocene", size=18, dom_y=False)
for (t, x) in gi_text:
    A(1, x, 0.745, t, size=11)
for (t, x) in gs_text:
    A(1, x, 0.055, t, size=11)
A(1, 23.1, 0.915, "GI GI", size=11)
A(1, 23.1, 0.80, "2.12.2", size=11)
A(1, 23.25, 0.24, "GS", size=11)
A(1, 23.25, 0.14, "2.2", size=11)
for (t, x, yy) in [("a", 34.76, 0.15), ("b", 34.95, 0.235), ("c", 35.24, 0.33),
                   ("a", 36.72, 0.14), ("b", 37.0, 0.235), ("c", 37.64, 0.33)]:
    A(1, x, yy, t, size=8, angle=-90)

# side labels inside panels
A(2, -1.2, 11.7, "GP04PC", size=17, color="#f5946c", angle=-90, yref="y7")
A(2, 42.45, 14.2, "MD012443", size=17, color="#5b7fd6", angle=-90, yref="y2")
A(3, -1.2, 142, "Winter", size=17, color="#86b3ee", angle=-90, dom_y=False)
A(4, -1.25, 1.29, "Br norm", size=20, color="#2f7a3c", angle=-90, yref="y4")
A(4, -1.25, 0.65, "Zr/Al", size=20, color="#6b6be6", angle=-90, yref="y4")
A(4, -0.55, 1.33, "Org. Mat.", size=10, angle=-90, yref="y4")
A(4, -0.12, 1.55, "+", size=10, yref="y4")
A(4, -0.12, 1.06, "-", size=11, yref="y4")
A(4, -0.55, 0.66, "MOW", size=10, angle=-90, yref="y4")
A(4, -0.14, 0.93, "+", size=10, color="#6b6be6", yref="y4")
A(4, -0.14, 0.40, "-", size=11, color="#6b6be6", yref="y4")
anns.append(dict(xref="x4", yref="y4", axref="x4", ayref="y4", x=-0.14, y=0.47, ax=-0.14, ay=0.86, text="",
                 showarrow=True, arrowhead=2, startarrowhead=2, arrowside="end+start", arrowcolor="#6b6be6",
                 arrowwidth=1.6, arrowsize=1, font=dict(size=10)))
A(5, -1.15, 58.2, "AP", size=21, color="#1fa53b", angle=-90, dom_y=False)
A(6, -1.15, 40.0, "<i>Quercus</i>", size=21, color="#f47e50", angle=-90, dom_y=False)
A(6, -1.15, 9.5, "<i>Artemisia</i>", size=21, color="#3a3ad6", angle=-90, dom_y=False)

for (t, x, y, ang) in ap_labels:
    A(5, x, y, t, size=14, color="#3aaa4a", angle=ang, dom_y=False)
for (t, x, y, ang) in quercus_labels:
    A(6, x, y, t, size=14, color="#f08a5d", angle=ang, dom_y=False)
for (t, x, y, ang) in artemisia_labels:
    A(6, x, y, t, size=14, color="#3232c8", angle=ang, dom_y=False)

# LTP labels
for k, name in enumerate(ltp_names):
    anns.append(dict(xref="x6", yref="paper", x=(ltp_edges[k] + ltp_edges[k + 1]) / 2, y=1 - 1435 / H,
                     text=name, showarrow=False, font=dict(size=13, color="#333333", family=FONT),
                     xanchor="center", yanchor="middle"))

# axis titles (paper coords)
def P(x, y, text, size, angle=-90, color="#111111"):
    anns.append(dict(xref="paper", yref="paper", x=x / W, y=1 - y / H, text=text, showarrow=False, textangle=angle,
                     xanchor="center", yanchor="middle", font=dict(size=size, color=color, family=FONT)))
P(40, 80, "δ<sup>18</sup>O", 27)
P(40, 243, "LDI-SST (°C)", 22)
P(40, 411, "P-index mm/a", 22)
P(30, 641, "Br norm U1387", 21)
P(38, 934, "Arboreal pollen percentages", 20)
P(38, 1247, "Pollen percentages", 20)
P(1346, 80, "NGRIP", 14)
P(1367, 243, "MD012443 SST (°C)", 13)
P(1346, 411, "Padul 15-05", 14)
P(1368, 641, "ln(Zr/Al) U1387", 13)
P(1348, 934, "Los Tollos", 14)
P(1348, 1247, "Los Tollos", 14)

fig.update_layout(annotations=anns)
fig.write_html("out.html")
